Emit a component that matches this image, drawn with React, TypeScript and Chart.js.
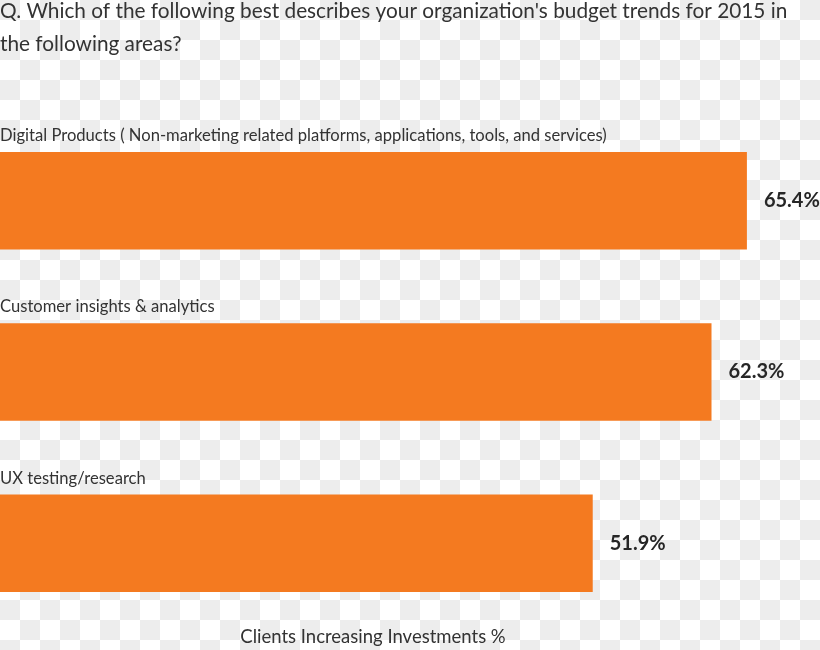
import React, { useEffect, useRef } from "react";
import { Chart, registerables } from "chart.js";

Chart.register(...registerables);

const titleLines = [
  "Q. Which of the following best describes your organization's budget trends for 2015 in",
  "the following areas?",
];
const categories = [
  "Digital Products ( Non-marketing related platforms, applications, tools, and services)",
  "Customer insights & analytics",
  "UX testing/research",
];
const values = [65.4, 62.3, 51.9];
const axisTitle = "Clients Increasing Investments %";

const FONT = "Lato, 'Source Sans Pro', 'Noto Sans', sans-serif";
const TEXT = "#333333";
const BAR = "#F47A20";

const textPlugin = {
  id: "customText",
  afterDatasetsDraw(chart: any) {
    const ctx = chart.ctx;
    ctx.save();
    ctx.fillStyle = TEXT;
    ctx.textAlign = "left";
    ctx.textBaseline = "alphabetic";
    ctx.font = `20.8px ${FONT}`;
    ctx.fillText(titleLines[0], 0, 18);
    ctx.fillText(titleLines[1], 0, 51);

    const meta = chart.getDatasetMeta(0);
    meta.data.forEach((bar: any, i: number) => {
      const top = bar.y - bar.height / 2;
      ctx.font = `16.6px ${FONT}`;
      ctx.fillStyle = TEXT;
      ctx.textBaseline = "alphabetic";
      ctx.textAlign = "left";
      ctx.fillText(categories[i], 0, top - 11);
      ctx.font = `bold 20px ${FONT}`;
      ctx.fillStyle = "#262626";
      ctx.textBaseline = "middle";
      ctx.fillText(values[i].toFixed(1) + "%", bar.x + 17, bar.y);
    });

    ctx.font = `18.5px ${FONT}`;
    ctx.fillStyle = TEXT;
    ctx.textBaseline = "alphabetic";
    ctx.textAlign = "center";
    ctx.fillText(axisTitle, 373, 643);
    ctx.restore();
  },
};

export default function App() {
  const ref = useRef<HTMLCanvasElement | null>(null);
  useEffect(() => {
    document.body.style.margin = "0";
    if (!ref.current) return;
    const chart = new Chart(ref.current, {
      type: "bar",
      data: {
        labels: categories,
        datasets: [
          {
            data: values,
            backgroundColor: BAR,
            borderWidth: 0,
            categoryPercentage: 1,
            barPercentage: 0.569,
          },
        ],
      },
      options: {
        indexAxis: "y",
        responsive: false,
        animation: false,
        devicePixelRatio: 1,
        layout: { padding: { top: 115, bottom: 21, left: 0, right: 0 } },
        scales: {
          x: { display: false, min: 0, max: 71.8 },
          y: { display: false },
        },
        plugins: {
          legend: { display: false },
          tooltip: { enabled: false },
          title: { display: false },
        },
      },
      plugins: [textPlugin],
    });
    return () => chart.destroy();
  }, []);

  return (
    <div
      style={{
        position: "absolute",
        left: 0,
        top: 0,
        width: 820,
        height: 650,
        backgroundColor: "#ffffff",
        backgroundImage:
          "conic-gradient(#ffffff 0 25%, #ededed 0 50%, #ffffff 0 75%, #ededed 0)",
        backgroundSize: "40px 40px",
      }}
    >
      <canvas ref={ref} width={820} height={650} />
    </div>
  );
}
